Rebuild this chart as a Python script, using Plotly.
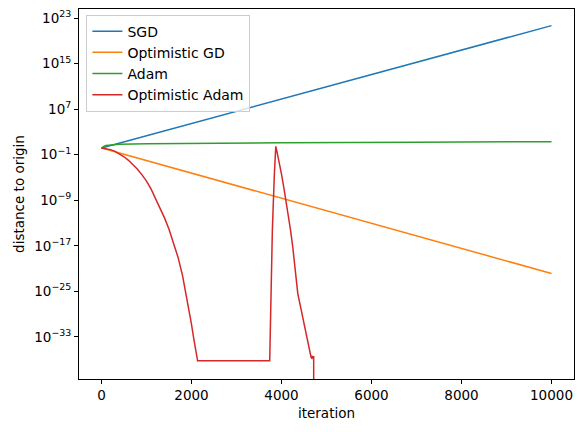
import plotly.graph_objects as go

# ---- data ----
sgd_iter = [0, 2500, 5000, 7500, 10000]
sgd_val = [1.5, 3.6e5, 8.5e10, 2.0e16, 4.8e21]

ogd_iter = [0, 2500, 5000, 7500, 10000]
ogd_val = [1.5, 4.7e-6, 1.4e-11, 4.4e-17, 1.35e-22]

adam_iter = [0, 25, 50, 100, 200, 400, 1000, 2000, 4000, 7000, 10000]
adam_val = [1.5, 2.3, 2.8, 4.0, 5.2, 6.8, 8.5, 10.0, 12.6, 15.8, 19.5]

oadam_iter = [0, 100, 200, 300, 400, 500, 600, 700, 800, 900, 1000, 1100,
              1200, 1300, 1400, 1500, 1600, 1700, 1800, 1900, 2000, 2050,
              2100, 2136,
              3738, 3760, 3797, 3840, 3873,
              3900, 3950, 4000, 4050, 4100, 4150, 4200, 4250, 4300, 4340,
              4350, 4355, 4362, 4660, 4665, 4675, 4690, 4700, 4715, 4718]
oadam_val = [1.51, 1.26, 0.79, 0.38, 0.145, 4.37e-2, 1.05e-2, 1.95e-3,
             2.75e-4, 2.9e-5, 2.3e-6, 1.0e-7, 2.5e-9, 5.0e-11, 7.9e-13,
             7.9e-15, 4.0e-17, 1.0e-19, 6.3e-23, 6.3e-27, 1.6e-31, 5.0e-34,
             1.6e-36, 6.3e-38,
             6.3e-38, 3.0e-27, 6.3e-15, 2.0e-5, 2.9,
             0.32, 5.0e-3, 4.0e-5, 2.0e-7, 1.0e-9, 3.2e-12, 6.3e-15,
             6.3e-18, 2.5e-21, 1.6e-24,
             2.5e-25, 1.0e-24, 4.0e-26, 2.0e-37, 5.0e-37, 1.3e-37, 4.0e-37,
             3.2e-37, 3.2e-37, 1e-60]

series = [
    ("SGD", sgd_iter, sgd_val, "#1f77b4"),
    ("Optimistic GD", ogd_iter, ogd_val, "#ff7f0e"),
    ("Adam", adam_iter, adam_val, "#2ca02c"),
    ("Optimistic Adam", oadam_iter, oadam_val, "#d62728"),
]

ytick_exp = [23, 15, 7, -1, -9, -17, -25, -33]
xtick_vals = [0, 2000, 4000, 6000, 8000, 10000]

fig = go.Figure()
for name, xs, ys, col in series:
    fig.add_trace(go.Scatter(x=xs, y=ys, mode="lines", name=name,
                             line=dict(color=col, width=1.5)))

FS = 13.5
font = dict(family="DejaVu Sans", size=FS, color="black")
fig.update_layout(
    width=584, height=432,
    margin=dict(l=79, r=10, t=9, b=53),
    paper_bgcolor="white", plot_bgcolor="white",
    font=font,
    showlegend=True,
    legend=dict(x=0.015, y=0.985, xanchor="left", yanchor="top",
                bgcolor="rgba(255,255,255,0.8)", bordercolor="#cccccc",
                borderwidth=1, font=dict(family="DejaVu Sans", size=14, color="black"),
                tracegroupgap=0, itemwidth=30),
)
fig.update_xaxes(
    range=[-500, 10500], tickvals=xtick_vals,
    ticktext=[str(v) for v in xtick_vals],
    tickfont=dict(family="DejaVu Sans", size=FS, color="black"),
    showline=True, linecolor="black", linewidth=1, mirror=True,
    ticks="outside", ticklen=4, tickcolor="black", showgrid=False,
    zeroline=False,
    title=dict(text="iteration", standoff=6,
               font=dict(family="DejaVu Sans", size=FS, color="black")),
)
fig.update_yaxes(
    type="log", range=[-40.4, 24.6],
    tickvals=[10.0 ** e for e in ytick_exp],
    ticktext=["10<sup>" + str(e).replace("-", "\u2212") + "</sup>" for e in ytick_exp],
    tickfont=dict(family="DejaVu Sans", size=FS, color="black"),
    showline=True, linecolor="black", linewidth=1, mirror=True,
    ticks="outside", ticklen=4, tickcolor="black", showgrid=False,
    zeroline=False,
    title=dict(text="distance to origin", standoff=6,
               font=dict(family="DejaVu Sans", size=FS, color="black")),
)

fig.write_html("out.html")
